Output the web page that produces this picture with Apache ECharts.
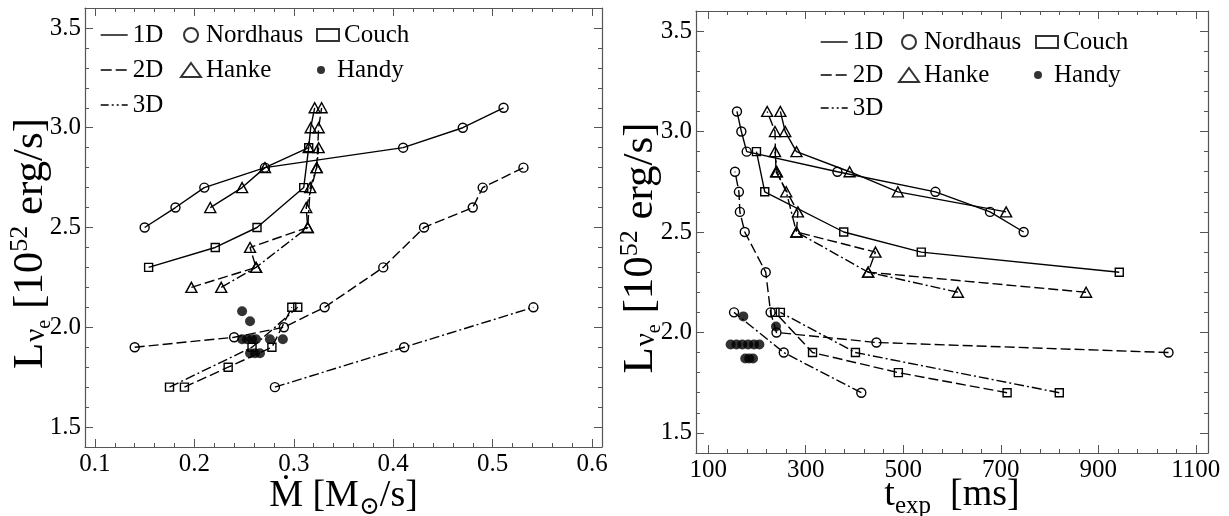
<!DOCTYPE html>
<html>
<head>
<meta charset="utf-8">
<script src="https://cdn.jsdelivr.net/npm/echarts@6/dist/echarts.min.js"></script>
<style>
  html, body { margin: 0; padding: 0; background: #ffffff; }
  #chart { width: 1229px; height: 516px; }
</style>
</head>
<body>
<div id="chart"></div>
<script>
// Critical electron-neutrino luminosity (10^52 erg/s) plotted against
// mass accretion rate (left) and explosion time (right).

// ---- tick values ----
const lumMajor = [1.5, 2.0, 2.5, 3.0, 3.5];
const lumMinor = [1.6, 1.7, 1.8, 1.9, 2.1, 2.2, 2.3, 2.4, 2.6, 2.7, 2.8, 2.9, 3.1, 3.2, 3.3, 3.4];
const mdotMajor = [0.1, 0.2, 0.3, 0.4, 0.5, 0.6];
const mdotMinor = [0.12, 0.14, 0.16, 0.18, 0.22, 0.24, 0.26, 0.28, 0.32, 0.34, 0.36, 0.38,
                   0.42, 0.44, 0.46, 0.48, 0.52, 0.54, 0.56, 0.58];
const texpMajor = [100, 300, 500, 700, 900, 1100];
const texpMinor = [140, 180, 220, 260, 340, 380, 420, 460, 540, 580, 620, 660,
                   740, 780, 820, 860, 940, 980, 1020, 1060];

// ---- Nordhaus et al. ----
const nordhaus1D_L    = [2.5, 2.6, 2.7, 2.8, 2.9, 3.0, 3.1];
const nordhaus1D_mdot = [0.150, 0.181, 0.210, 0.271, 0.410, 0.470, 0.511];
const nordhaus1D_texp = [747, 678, 566, 365, 179, 168, 159];

const nordhaus2D_L    = [1.9, 1.95, 2.0, 2.1, 2.3, 2.5, 2.6, 2.7, 2.8];
const nordhaus2D_mdot = [0.140, 0.240, 0.290, 0.331, 0.390, 0.431, 0.480, 0.490, 0.531];
const nordhaus2D_texp = [1044, 445, 240, 228, 218, 175, 165, 163, 155];

const nordhaus3D_L    = [1.7, 1.9, 2.1];
const nordhaus3D_mdot = [0.281, 0.411, 0.541];
const nordhaus3D_texp = [414, 255, 153];

// ---- Hanke et al. ----
const hanke1D_L    = [2.6, 2.7, 2.8, 2.9, 3.0, 3.1];
const hanke1D_mdot = [0.216, 0.248, 0.271, 0.315, 0.317, 0.321];
const hanke1D_texp = [711, 489, 390, 281, 258, 248];

const hanke2D_L    = [2.2, 2.3, 2.4, 2.5, 2.6, 2.8, 3.0, 3.1];
const hanke2D_mdot = [0.197, 0.262, 0.256, 0.314, 0.3125, 0.323, 0.325, 0.328];
const hanke2D_texp = [875, 428, 443, 281, 284, 239, 237, 221];

const hanke3D_L    = [2.2, 2.3, 2.5, 2.7, 2.8, 2.9];
const hanke3D_mdot = [0.227, 0.262, 0.314, 0.3165, 0.323, 0.325];
const hanke3D_texp = [612, 428, 281, 260, 241, 237];

// ---- Couch ----
const couch1D_L    = [2.3, 2.4, 2.5, 2.7, 2.9];
const couch1D_mdot = [0.154, 0.221, 0.263, 0.310, 0.315];
const couch1D_texp = [943, 537, 378, 216, 199];

const couch2D_L    = [1.7, 1.8, 1.9, 2.1];
const couch2D_mdot = [0.190, 0.234, 0.278, 0.298];
const couch2D_texp = [713, 490, 314, 237];

const couch3D_L    = [1.7, 1.9, 2.1];
const couch3D_mdot = [0.175, 0.258, 0.304];
const couch3D_texp = [820, 402, 248];

// ---- Handy et al. ----
const handy_L    = [2.08, 2.03, 1.94, 1.94, 1.94, 1.94, 1.94, 1.94, 1.87, 1.87, 1.87];
const handy_mdot = [0.248, 0.256, 0.248, 0.253, 0.258, 0.262, 0.276, 0.289, 0.256, 0.261, 0.266];
const handy_texp = [172, 239, 146, 158, 170, 182, 194, 205, 176, 184, 192];

// ---- styling helpers ----
const FONT = "'Liberation Serif', 'DejaVu Serif', serif";
const FRAME = '#555555';
const DASH = { '1D': 'solid', '2D': [10, 4], '3D': [10, 3, 2, 3] };
const KEYDASH = { '1D': 'solid', '2D': [11, 4], '3D': [8, 3, 2, 3, 2, 3] };
const SYM = {
  Nordhaus: { symbol: 'circle', size: 9 },
  Hanke: { symbol: 'triangle', size: [11, 10] },
  Couch: { symbol: 'rect', size: 8 }
};
const CLEAR = 'rgba(0,0,0,0)';

function pairs(xs, ys) { return xs.map((x, i) => [x, ys[i]]); }

function track(group, dim, xs, ys, axisIdx) {
  return {
    name: group + ' ' + dim,
    type: 'line',
    xAxisIndex: axisIdx, yAxisIndex: axisIdx,
    data: pairs(xs, ys),
    symbol: SYM[group].symbol,
    symbolSize: SYM[group].size,
    showAllSymbol: true,
    lineStyle: { color: '#000', width: 1.4, type: DASH[dim] },
    itemStyle: { color: CLEAR, borderColor: '#000', borderWidth: 1.4 },
    emphasis: { disabled: true },
    animation: false,
    z: 3
  };
}

function handy(xs, axisIdx) {
  return {
    name: 'Handy pts',
    type: 'scatter',
    xAxisIndex: axisIdx, yAxisIndex: axisIdx,
    data: pairs(xs, handy_L),
    symbol: 'circle', symbolSize: 10,
    itemStyle: { color: '#000' },
    emphasis: { disabled: true },
    animation: false,
    z: 4
  };
}

// Four axes per side pair: labelled axis, its minor ticks, mirrored axis, mirrored minor ticks.
function axisSet(dim, gridIndex, min, max, majors, minors, fmt, name, nameGap, rich, namePad) {
  const near = dim === 'x' ? 'bottom' : 'left';
  const far = dim === 'x' ? 'top' : 'right';
  const base = {
    type: 'value', gridIndex, min, max,
    splitLine: { show: false },
    axisLabel: { show: false },
    axisLine: { show: false, onZero: false }
  };
  const line = { show: true, onZero: false, lineStyle: { color: FRAME, width: 1.2 } };
  const major = (len) => ({ show: true, inside: true, length: len, customValues: majors,
                            lineStyle: { color: FRAME, width: 1 } });
  const minor = { show: true, inside: true, length: 4, customValues: minors,
                  lineStyle: { color: FRAME, width: 1 } };
  return [
    Object.assign({}, base, {
      position: near, axisLine: line, axisTick: major(8),
      axisLabel: { show: true, customValues: majors, formatter: fmt, color: '#000',
                   fontFamily: FONT, fontSize: 25, margin: dim === 'x' ? 5 : 4 },
      name, nameLocation: 'middle', nameGap, nameRotate: dim === 'x' ? 0 : 90,
      nameMoveOverlap: false,
      nameTextStyle: { rich, padding: namePad }
    }),
    Object.assign({}, base, { position: near, axisTick: minor }),
    Object.assign({}, base, { position: far, axisLine: line, axisTick: major(8) }),
    Object.assign({}, base, { position: far, axisTick: minor })
  ];
}

const richY = {
  a: { fontFamily: FONT, fontSize: 43, color: '#000', lineHeight: 48 },
  nu: { fontFamily: FONT, fontSize: 29, color: '#000', lineHeight: 29, verticalAlign: 'bottom', padding: [0, 0, 4, 1] },
  e: { fontFamily: FONT, fontSize: 20, color: '#000', lineHeight: 20, verticalAlign: 'bottom' },
  p: { fontFamily: FONT, fontSize: 26, color: '#000', lineHeight: 26, verticalAlign: 'top' }
};
const richX = {
  a: { fontFamily: FONT, fontSize: 38, color: '#000', lineHeight: 48 },
  s: { fontFamily: FONT, fontSize: 25, color: '#000', lineHeight: 25, verticalAlign: 'bottom' }
};

const lumTitle = '{a|L}{nu|ν}{e|e}{a| [10}{p|52}{a| erg/s]}';
const fmt1 = v => v.toFixed(1);
const fmt0 = v => String(Math.round(v));

const xAxes = [].concat(
  axisSet('x', 0, 0.09, 0.61, mdotMajor, mdotMinor, fmt1, '{a|Ṁ [M}{s|⊙}{a|/s]}', 25, richX, 0),
  axisSet('x', 1, 75, 1125, texpMajor, texpMinor, fmt0, '{a|t}{s|exp}{a|  [ms]}', 18, richX, 0)
);
const yAxes = [].concat(
  axisSet('y', 0, 1.4, 3.6, lumMajor, lumMinor, fmt1, lumTitle, 30, richY, [0, 32, 0, 0]),
  axisSet('y', 1, 1.4, 3.6, lumMajor, lumMinor, fmt1, lumTitle, 31, richY, [0, 32, 0, 0])
);

// Axis index of the labelled axes for each panel
const LEFT = 0, RIGHT = 4;

const series = [
  track('Nordhaus', '1D', nordhaus1D_mdot, nordhaus1D_L, LEFT),
  track('Nordhaus', '2D', nordhaus2D_mdot, nordhaus2D_L, LEFT),
  track('Nordhaus', '3D', nordhaus3D_mdot, nordhaus3D_L, LEFT),
  track('Hanke', '1D', hanke1D_mdot, hanke1D_L, LEFT),
  track('Hanke', '2D', hanke2D_mdot, hanke2D_L, LEFT),
  track('Hanke', '3D', hanke3D_mdot, hanke3D_L, LEFT),
  track('Couch', '1D', couch1D_mdot, couch1D_L, LEFT),
  track('Couch', '2D', couch2D_mdot, couch2D_L, LEFT),
  track('Couch', '3D', couch3D_mdot, couch3D_L, LEFT),
  handy(handy_mdot, LEFT),

  track('Nordhaus', '1D', nordhaus1D_texp, nordhaus1D_L, RIGHT),
  track('Nordhaus', '2D', nordhaus2D_texp, nordhaus2D_L, RIGHT),
  track('Nordhaus', '3D', nordhaus3D_texp, nordhaus3D_L, RIGHT),
  track('Hanke', '1D', hanke1D_texp, hanke1D_L, RIGHT),
  track('Hanke', '2D', hanke2D_texp, hanke2D_L, RIGHT),
  track('Hanke', '3D', hanke3D_texp, hanke3D_L, RIGHT),
  track('Couch', '1D', couch1D_texp, couch1D_L, RIGHT),
  track('Couch', '2D', couch2D_texp, couch2D_L, RIGHT),
  track('Couch', '3D', couch3D_texp, couch3D_L, RIGHT),
  handy(handy_texp, RIGHT)
];

// Key entries: line styles for dimensionality, markers for the groups
['1D', '2D', '3D'].forEach(d => series.push({
  name: d, type: 'line', data: [], symbol: 'none', xAxisIndex: 0, yAxisIndex: 0,
  lineStyle: { color: '#000', width: 1.4, type: KEYDASH[d] },
  itemStyle: { color: CLEAR, borderWidth: 0, opacity: 0 }
}));
[['Nordhaus', 'circle'], ['Hanke', 'triangle'], ['Couch', 'rect']].forEach(([n, s]) => series.push({
  name: n, type: 'scatter', data: [], symbol: s, xAxisIndex: 0, yAxisIndex: 0,
  itemStyle: { color: CLEAR, borderColor: '#000', borderWidth: 1.4 }
}));
series.push({ name: 'Handy', type: 'scatter', data: [], symbol: 'circle', xAxisIndex: 0, yAxisIndex: 0,
              itemStyle: { color: '#000' } });

const keyText = { fontFamily: FONT, fontSize: 25, color: '#000', lineHeight: 30 };
function lineKeyItems() {
  return ['1D', '2D', '3D'].map(d => ({
    name: d,
    lineStyle: { color: '#000', width: 1.4, type: KEYDASH[d] },
    itemStyle: { color: CLEAR, borderWidth: 0, opacity: 0 }
  }));
}
function key(names, left, top, w, h, gap) {
  return {
    data: names, orient: 'vertical', left, top, itemWidth: w, itemHeight: h, itemGap: gap,
    padding: 0, selectedMode: false, textStyle: keyText
  };
}

const legends = [
  key(lineKeyItems(), 100, 20, 27, 14, 5),
  key(['Nordhaus', 'Hanke'], 180, 20, 20, 14, 5),
  key(['Couch'], 316, 20, 22, 12, 5),
  key(['Handy'], 317, 55, 22, 8, 5),

  key(lineKeyItems(), 820, 27, 27, 14, 3),
  key(['Nordhaus', 'Hanke'], 898, 27, 20, 14, 3),
  key(['Couch'], 1035, 27, 22, 12, 3),
  key(['Handy'], 1034, 60, 22, 8, 3)
];

const chart = echarts.init(document.getElementById('chart'), null, { renderer: 'canvas' });
chart.setOption({
  animation: false,
  backgroundColor: '#ffffff',
  grid: [
    { left: 85, top: 8, width: 517, height: 439, outerBoundsMode: 'none', containLabel: false },
    { left: 696, top: 11, width: 512, height: 442, outerBoundsMode: 'none', containLabel: false }
  ],
  xAxis: xAxes,
  yAxis: yAxes,
  legend: legends,
  series
});
</script>
</body>
</html>
